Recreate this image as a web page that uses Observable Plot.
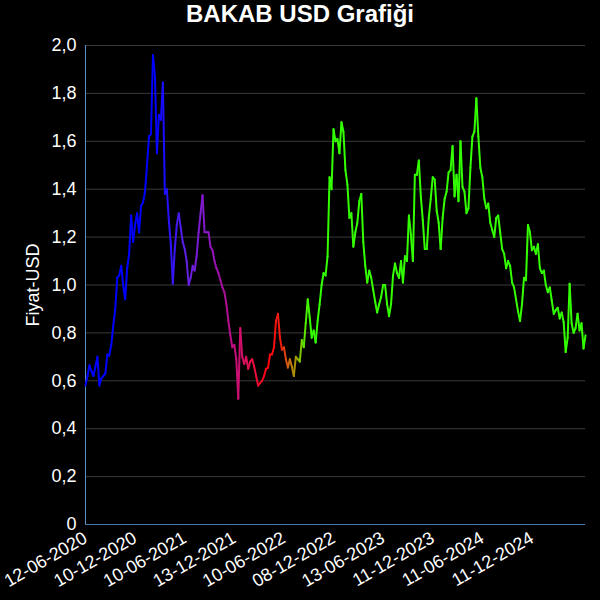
<!DOCTYPE html>
<html><head><meta charset="utf-8">
<script src="https://cdn.jsdelivr.net/npm/d3@7"></script>
<script src="https://cdn.jsdelivr.net/npm/@observablehq/plot@0.6"></script>
<style>
body{margin:0;background:#000;}
#title{height:40px;line-height:40px;text-align:center;color:#fff;font:bold 24px "Liberation Sans",Arial,sans-serif;}
</style></head><body>
<div id="title"></div>
<div id="chart"></div>
<script>
const chartTitle = "BAKAB USD Grafiği";
const yLabel = "Fiyat-USD";
// weekly-ish samples of the price (USD)
const prices = [
0.58,0.62,0.665,0.64,0.62,0.66,0.70,0.58,0.61,0.62,
0.63,0.71,0.705,0.75,0.83,0.90,1.03,1.04,1.08,1.00,
0.94,1.07,1.13,1.29,1.18,1.25,1.30,1.22,1.33,1.345,
1.39,1.50,1.62,1.63,1.96,1.87,1.55,1.71,1.69,1.845,
1.38,1.40,1.27,1.17,1.005,1.15,1.25,1.30,1.24,1.18,
1.15,1.10,1.00,1.03,1.08,1.06,1.12,1.22,1.30,1.375,
1.22,1.22,1.22,1.16,1.145,1.10,1.07,1.05,1.02,0.99,
0.97,0.92,0.85,0.79,0.74,0.75,0.69,0.525,0.82,0.70,
0.67,0.70,0.65,0.68,0.69,0.66,0.62,0.58,0.59,0.60,
0.62,0.65,0.655,0.71,0.71,0.74,0.85,0.88,0.78,0.73,
0.74,0.69,0.655,0.69,0.66,0.62,0.70,0.69,0.68,0.77,
0.74,0.84,0.94,0.865,0.78,0.81,0.76,0.85,0.92,1.00,
1.05,1.04,1.12,1.45,1.40,1.65,1.60,1.61,1.55,1.68,
1.64,1.48,1.42,1.28,1.30,1.16,1.22,1.26,1.35,1.38,
1.18,1.08,1.01,1.06,1.03,0.98,0.93,0.885,0.92,0.95,
1.00,1.00,0.92,0.87,0.92,1.04,1.09,1.05,1.03,1.10,
1.01,1.12,1.10,1.29,1.21,1.10,1.46,1.46,1.52,1.37,
1.27,1.15,1.15,1.28,1.36,1.45,1.44,1.31,1.26,1.15,
1.28,1.36,1.39,1.47,1.48,1.58,1.37,1.46,1.35,1.60,
1.41,1.39,1.30,1.32,1.49,1.62,1.64,1.78,1.62,1.49,
1.45,1.36,1.32,1.34,1.26,1.23,1.20,1.28,1.29,1.22,
1.15,1.13,1.07,1.10,1.08,1.01,0.99,0.94,0.89,0.85,
0.92,1.03,1.02,1.25,1.22,1.145,1.16,1.13,1.17,1.07,
1.05,1.06,1.00,0.97,0.99,0.935,0.88,0.895,0.905,0.86,
0.885,0.845,0.72,0.78,1.005,0.84,0.80,0.82,0.88,0.81,
0.84,0.735,0.79
];
const xTickLabels = ["12-06-2020","10-12-2020","10-06-2021","13-12-2021","10-06-2022","08-12-2022","13-06-2023","11-12-2023","11-06-2024","11-12-2024"];
const xTickStep = 25;
const yTicks = [0,0.2,0.4,0.6,0.8,1.0,1.2,1.4,1.6,1.8,2.0];
const colorStops = [0,34,40.4,50.5,60.6,68,75.8,83.3,90.9,98.5,102.5,106,109.6,112.6,252];
const colorRange = ["#0000ff","#0000ff","#2010ff","#6020e0","#8a18c8","#a010a0","#c81078","#e81048","#ff0010","#f02010","#c87010","#a0a000","#60e000","#33ff00","#33ff00"];

document.getElementById("title").textContent = chartTitle;

const pts = prices.map((v, i) => ({i, v}));
const segments = d3.pairs(pts).map(([a, b]) => ({x1: a.i, y1: a.v, x2: b.i, y2: b.v, c: a.i}));
const xTicks = xTickLabels.map((_, k) => k * xTickStep);
const fmtY = d => d === 0 ? "0" : d.toFixed(1).replace(".", ",");

const plot = Plot.plot({
  width: 600, height: 560,
  marginTop: 5, marginBottom: 76, marginLeft: 85, marginRight: 15,
  style: {background: "#000", color: "#fff", fontFamily: "'Liberation Sans', Arial, sans-serif", fontSize: "18px", overflow: "visible"},
  x: {domain: [0, prices.length - 1]},
  y: {domain: [0, 2]},
  color: {type: "linear", domain: colorStops, range: colorRange, interpolate: "rgb"},
  marks: [
    Plot.gridY(yTicks, {stroke: "#3a3a3a", strokeOpacity: 1}),
    Plot.axisY(yTicks, {tickSize: 0, tickPadding: 9, tickFormat: fmtY, label: null, fontSize: 18}),
    Plot.text([yLabel], {frameAnchor: "left", textAnchor: "middle", dx: -52, rotate: -90, fill: "#fff", fontSize: 18}),
    Plot.axisX(xTicks, {tickSize: 0, tickRotate: -30, tickPadding: 12, tickFormat: d => xTickLabels[d / xTickStep], label: null, fontSize: 18}),
    Plot.ruleX([0], {stroke: "#5b8fc8"}),
    Plot.ruleY([0], {stroke: "#4a78b0"}),
    Plot.link(segments, {x1: "x1", y1: "y1", x2: "x2", y2: "y2", stroke: "c", strokeWidth: 2, strokeLinecap: "round"})
  ]
});
document.getElementById("chart").appendChild(plot);
</script>
</body></html>
